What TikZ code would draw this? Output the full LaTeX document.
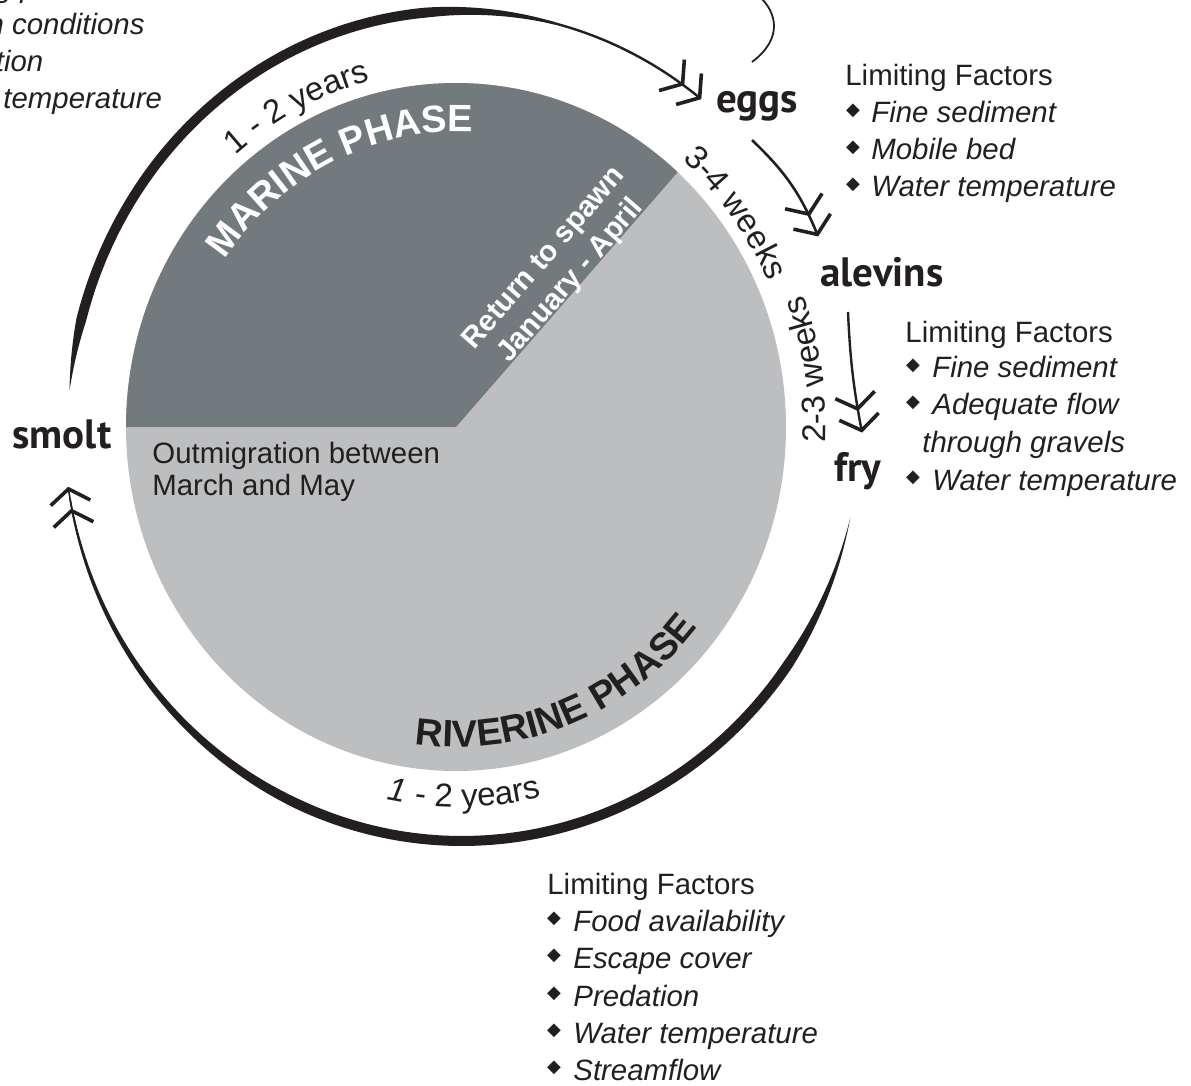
\documentclass[tikz,border=0pt]{standalone}
\usepackage{fontspec}
\setmainfont{Liberation Sans}
\newfontfamily\stagefont{PT Sans}
\newfontfamily\symfont{DejaVu Sans}
\usetikzlibrary{arrows.meta,decorations.text}
\definecolor{ink}{HTML}{231F20}
\definecolor{marine}{HTML}{737A7D}
\definecolor{river}{HTML}{BCBEC0}
\newcommand\phasefont{\fontsize{19}{19}\selectfont\bfseries}
\newcommand\yrfont{\fontsize{16.5}{16.5}\selectfont}
\begin{document}
\begin{tikzpicture}[x=0.5pt,y=0.5pt,
  declare function={
    wtop(\t)=min(10,175-\t,2.4+(\t-76)*0.4);
    wbot(\t)=min(10,1.6+(\t-190)*0.15,(347.3-\t)*0.45);
  },
  lbl/.style={inner sep=0pt,anchor=base west,text=ink,font=\fontsize{14.7}{17}\selectfont},
  itm/.style={inner sep=0pt,anchor=base west,text=ink,font=\fontsize{14.7}{17}\selectfont\itshape},
  bul/.style={inner sep=0pt,anchor=center,text=ink,font=\symfont\fontsize{9}{9}\selectfont},
  stage/.style={inner sep=0pt,anchor=base,text=ink,font=\stagefont\bfseries\fontsize{20.5}{20.5}\selectfont},
  dblbarb/.style={-{Straight Barb[length=7pt,width=20pt,line width=1.8pt,sep=2pt]Straight Barb[length=7pt,width=20pt,line width=1.8pt]}},
  curvtext/.style={decorate,decoration={text along path,text align=center,text={#1}}}
]
\useasboundingbox (0,0) rectangle (1191,-1086);
\clip (0,0) rectangle (1191,-1086);

% pie
\fill[river] (456,-427) ellipse[x radius=330,y radius=344];
\fill[marine] (456,-427) -- (126,-427) arc[start angle=180,end angle=47.8,x radius=330,y radius=344] -- cycle;

% curved phase texts
\path[curvtext={|\color{white}\phasefont|MARINE PHASE}] (199.5,-307.0) arc[start angle=156,end angle=76,x radius=283,y radius=295];
\path[curvtext={|\color{ink}\phasefont|RIVERINE PHASE}] (360.6,-730.5) arc[start angle=-108.5,end angle=-28.5,x radius=307,y radius=320];

% durations
\path[curvtext={|\color{ink}\yrfont|1 - 2 years}] (169.6,-234.6) arc[start angle=147.5,end angle=87.5,x radius=342,y radius=358];
\path[curvtext={|\color{ink}\yrfont\itshape|1|\color{ink}\yrfont\upshape| - 2 years}] (282.5,-759.4) arc[start angle=-119,end angle=-59,x radius=362,y radius=380];
\path[curvtext={|\color{ink}\yrfont|3-4 weeks}] (592.5,-101.0) arc[start angle=66.7,end angle=6.7,x radius=340,y radius=355];
\path[curvtext={|\color{ink}\yrfont|2-3 weeks}] (801.6,-565.0) arc[start angle=-21,end angle=39,x radius=368,y radius=385];

% pie texts
\node[lbl] (out1) at (152,-463) {Outmigration between};
\node[lbl] (out2) at (152,-495) {March and May};
\node[text=white,font=\fontsize{14.7}{17.5}\selectfont\bfseries,align=center,rotate=49,inner sep=0pt] (ret) at (558,-270) {Return to spawn\\January - April};

% stages
\node[stage] (eggs) at (757,-113) {eggs};
\node[stage] (alevins) at (882,-286) {alevins};
\node[stage] (fry) at (858,-481) {fry};
\node[stage] (smolt) at (62,-448) {smolt};

% marine arc (smolt -> eggs)
\fill[ink] plot[domain=76:175,samples=120,variable=\t] ({460+(392+wtop(\t)/2)*cos(\t)},{-427+(416+wtop(\t)/2)*sin(\t)})
  -- plot[domain=175:76,samples=120,variable=\t] ({460+(392-wtop(\t)/2)*cos(\t)},{-427+(416-wtop(\t)/2)*sin(\t)}) -- cycle;
\draw[ink,line width=1.2pt,dblbarb] plot[domain=77:52,samples=40,variable=\t] ({460+392*cos(\t)},{-427+416*sin(\t)});

% riverine arc (fry -> smolt)
\fill[ink] plot[domain=190:347.3,samples=150,variable=\t] ({462+(398+wbot(\t)/2)*cos(\t)},{-427+(414+wbot(\t)/2)*sin(\t)})
  -- plot[domain=347.3:190,samples=150,variable=\t] ({462+(398-wbot(\t)/2)*cos(\t)},{-427+(414-wbot(\t)/2)*sin(\t)}) -- cycle;
\draw[ink,line width=0.8pt,dblbarb] plot[domain=200:188.3,samples=20,variable=\t] ({462+398*cos(\t)},{-427+414*sin(\t)});

% return loop
\coordinate (loopA) at (760,3);
\coordinate (loopB) at (752,-62);
\draw[ink,line width=0.9pt] (loopA) .. controls (776,-12) and (784,-38) .. (loopB);

% stage arrows
\draw[ink,line width=1.3pt,dblbarb] ([shift={(-5,-18)}]eggs.south) to[bend left=12] ([shift={(-2,20)}]alevins.north west);
\draw[ink,line width=1.2pt,dblbarb] ([shift={(-34,-25)}]alevins.south) to[bend right=4] ([shift={(4,19)}]fry.north);

% limiting factors: eggs
\node[lbl] (lfE) at (845,-86) {Limiting Factors};
\node[bul] (bE1) at (853,-111) {◆}; \node[itm] (iE1) at (871,-123) {Fine sediment};
\node[bul] (bE2) at (853,-148) {◆}; \node[itm] (iE2) at (871,-160) {Mobile bed};
\node[bul] (bE3) at (853,-185) {◆}; \node[itm] (iE3) at (871,-197) {Water temperature};

% limiting factors: alevins
\node[lbl] (lfA) at (905,-343) {Limiting Factors};
\node[bul] (bA1) at (913,-366) {◆}; \node[itm] (iA1) at (932,-378) {Fine sediment};
\node[bul] (bA2) at (913,-403) {◆}; \node[itm] (iA2) at (932,-415) {Adequate flow};
\node[itm] (iA3) at (922,-452) {through gravels};
\node[bul] (bA4) at (913,-478) {◆}; \node[itm] (iA4) at (932,-490) {Water temperature};

% limiting factors: riverine
\node[lbl] (lfR) at (547,-894) {Limiting Factors};
\node[bul] (bR1) at (554,-919) {◆}; \node[itm] (iR1) at (573,-931) {Food availability};
\node[bul] (bR2) at (554,-956) {◆}; \node[itm] (iR2) at (573,-968) {Escape cover};
\node[bul] (bR3) at (554,-994) {◆}; \node[itm] (iR3) at (573,-1006) {Predation};
\node[bul] (bR4) at (554,-1031) {◆}; \node[itm] (iR4) at (573,-1043) {Water temperature};
\node[bul] (bR5) at (554,-1068) {◆}; \node[itm] (iR5) at (573,-1080) {Streamflow};

% limiting factors: marine (cut by the frame)
\node[itm] (iM1) at (-83,2) {Fishing pressure};
\node[itm] (iM2) at (-83,-35) {Ocean conditions};
\node[itm] (iM3) at (-83,-72) {Predation};
\node[itm] (iM4) at (-83,-109) {Water temperature};
\end{tikzpicture}
\end{document}
